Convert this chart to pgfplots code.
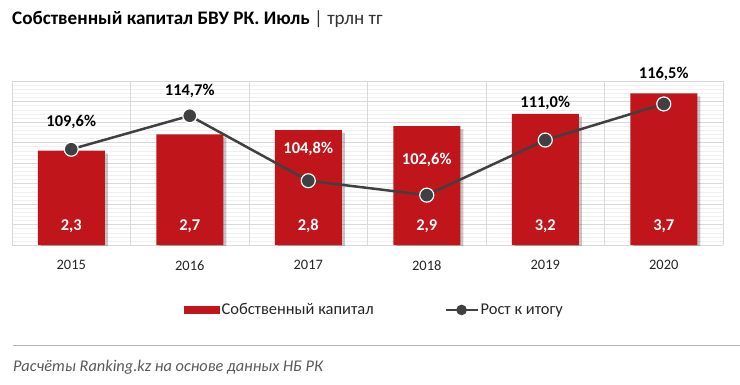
\documentclass[border=0pt]{standalone}
\usepackage{pgfplots}
\pgfplotsset{compat=1.18}
\usepackage{pgfplotstable}
\usepackage{fontspec}
\setmainfont{Carlito}
\usetikzlibrary{shadows}
\definecolor{barred}{HTML}{C0161B}
\definecolor{linegray}{HTML}{404040}
\definecolor{txtgray}{HTML}{595959}

\pgfplotstableread{
x y lab
0 2.3 {2,3}
1 2.7 {2,7}
2 2.8 {2,8}
3 2.9 {2,9}
4 3.2 {3,2}
5 3.7 {3,7}
}\bars

\pgfplotstableread{
x y lab dy
0 109.6 {109,6\%} 27
1 114.7 {114,7\%} 25
2 104.8 {\textcolor{white}{104,8\%}} 32
3 102.6 {\textcolor{white}{102,6\%}} 35
4 111.0 {111,0\%} 37
5 116.5 {116,5\%} 30
}\growth

\begin{document}
\begin{tikzpicture}[x=1bp,y=1bp]
\path[use as bounding box] (0,0) rectangle (740,384);
\node[anchor=west, inner sep=0] at (12,365) {\fontsize{19.2}{23}\selectfont\textbf{Собственный капитал БВУ РК. Июль} \textcolor{black!80}{| трлн тг}};

\begin{axis}[at={(12bp,139bp)}, anchor=south west, scale only axis,
  width=711bp, height=164bp,
  xmin=-0.5, xmax=5.5, ymin=0, ymax=4,
  xtick={0,1,2,3,4,5}, xticklabels={2015,2016,2017,2018,2019,2020},
  ytick={0,0.5,...,4}, yticklabels={},
  minor ytick={0,0.1,...,4},
  ymajorgrids, yminorgrids,
  major grid style={black!15, line width=0.6bp},
  minor grid style={black!6, line width=0.4bp},
  extra x ticks={-0.5,0.5,1.5,2.5,3.5,4.5,5.5}, extra x tick labels={},
  extra x tick style={grid=major, major grid style={black!15, line width=0.6bp}},
  axis line style={draw=none}, major tick length=0, minor tick length=0,
  tick style={draw=none},
  xticklabel style={font=\fontsize{14.5}{16}\selectfont, text=black!85, yshift=-12bp},
  /pgf/number format/assume math mode=true,
]
\addplot[ybar, bar width=67bp, fill=barred, draw=none,
  /tikz/drop shadow={shadow xshift=3bp, shadow yshift=-3bp, opacity=0.22, fill=black},
  point meta=explicit symbolic,
  visualization depends on={y \as \rawy},
  nodes near coords,
  every node near coord/.append style={anchor=center, text=white,
    font=\fontsize{16.5}{18}\selectfont\bfseries, yshift={(19-\rawy*41)*1bp}},
] table[x=x, y=y, meta=lab] {\bars};
\end{axis}

\begin{axis}[at={(12bp,139bp)}, anchor=south west, scale only axis,
  width=711bp, height=164bp,
  xmin=-0.5, xmax=5.5, ymin=95, ymax=120,
  hide axis, clip=false,
  legend style={draw=none, fill=none, legend columns=2, inner sep=0pt,
    at={(axis description cs:0.2419,-0.396)}, anchor=west,
    font=\fontsize{16.5}{18}\selectfont, text=black!85,
    /tikz/every even column/.append style={column sep=69bp}},
  legend cell align=left,
]
\addlegendimage{legend image code/.code={\fill[barred] (0bp,-3.5bp) rectangle (35bp,3.5bp);}}
\addlegendentry{Собственный капитал}
\addplot[linegray, line width=2.5bp, mark=*, mark size=7bp,
  mark options={fill=linegray, draw=white, line width=1.2bp},
  point meta=explicit symbolic,
  visualization depends on={\thisrow{dy} \as \dy},
  nodes near coords,
  every node near coord/.append style={anchor=center, text=black,
    font=\fontsize{16.5}{18}\selectfont\bfseries, yshift={(\dy)*1bp}},
  legend image code/.code={\draw[linegray, line width=2bp] (0bp,0bp) -- (32bp,0bp); \fill[linegray] (16bp,0bp) circle (4bp);},
] table[x=x, y=y, meta=lab] {\growth};
\addlegendentry{Рост к итогу}
\end{axis}

\draw[black!30, line width=1bp] (13,39) -- (740,39);
\node[anchor=west, inner sep=0, text=txtgray] at (13,17) {\fontsize{16.4}{18}\selectfont\itshape Расчёты Ranking.kz на основе данных НБ РК};
\end{tikzpicture}
\end{document}
